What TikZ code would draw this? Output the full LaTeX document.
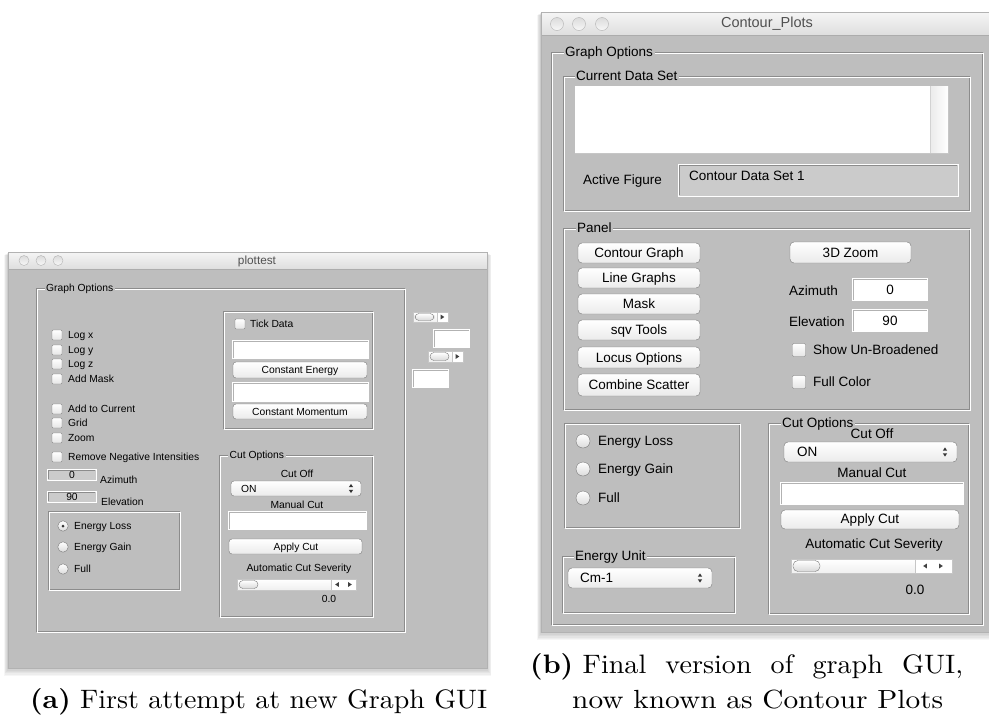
\documentclass[tikz,border=0pt]{standalone}
\usepackage{fontspec}
\usepackage{graphicx}
\newfontfamily\uifont{Liberation Sans}
\definecolor{bg}{RGB}{190,190,190}
\definecolor{etchd}{RGB}{140,140,140}
\definecolor{ctl}{RGB}{120,120,120}
\definecolor{ttl}{RGB}{80,80,80}
\newcommand\etchbox[4]{%
 \draw[etchd] (#1,#2) rectangle ({#3-1},{#4-1});
 \draw[white] ({#1+1},{#2+1}) rectangle (#3,#4);}
\newcommand\chkbox[3]{%
 \draw[rounded corners=1.2pt, draw=ctl, top color=white, bottom color=gray!20] ({#1-#3},{#2-#3}) rectangle ({#1+#3},{#2+#3});}
\newcommand\radiobtn[3]{\draw[draw=ctl, top color=white, bottom color=gray!28] (#1,#2) circle (#3);}
\newcommand\aquabtn[5]{%
 \draw[rounded corners=#5, draw=ctl, top color=white, bottom color=gray!16] (#1,#2) rectangle (#3,#4);}
\newcommand\popupmenu[6]{%
 \aquabtn{#1}{#2}{#3}{#4}{#6}
 \fill[black!80] ({#5-2.2},{(#2+#4)/2-1.3}) -- ({#5+2.2},{(#2+#4)/2-1.3}) -- (#5,{(#2+#4)/2-4.6}) -- cycle;
 \fill[black!80] ({#5-2.2},{(#2+#4)/2+1.3}) -- ({#5+2.2},{(#2+#4)/2+1.3}) -- (#5,{(#2+#4)/2+4.6}) -- cycle;}
\newcommand\textfield[4]{%
 \draw[white, line width=1.4pt, fill=white] ({#1-0.7},{#2-0.7}) rectangle ({#3+0.7},{#4+0.7});
 \draw[gray!60] ({#1+0.5},#4) -- ({#1+0.5},{#2+0.5}) -- (#3,{#2+0.5});}
\newcommand\grayfield[4]{%
 \fill[bg!80!white] (#1,#2) rectangle (#3,#4);
 \draw[white] (#1,#2) rectangle (#3,#4);
 \draw[etchd] ({#1+1},{#4-1}) -- ({#1+1},{#2+1}) -- ({#3-1},{#2+1});}
\newcommand\sliderbar[7]{%
 \fill[white] (#1,#2) rectangle (#3,#4);
 \shade[top color=white, bottom color=gray!12] (#1,#2) rectangle (#6,#4);
 \draw[gray!45] (#1,#2) rectangle (#3,#4);
 \draw[ctl, top color=white, bottom color=gray!30, rounded corners=#7] ({#1+2},{#2+1.5}) rectangle (#5,{#4-1.5});
 \draw[gray!45] (#6,#2) -- (#6,#4);}
\newcommand\trileft[2]{\fill[black!75] ({#1+1.8},{#2-2.4}) -- ({#1+1.8},{#2+2.4}) -- ({#1-1.8},#2) -- cycle;}
\newcommand\triright[2]{\fill[black!75] ({#1-1.8},{#2-2.4}) -- ({#1-1.8},{#2+2.4}) -- ({#1+1.8},#2) -- cycle;}
\tikzset{
 tL/.style={font=\uifont\fontsize{10.3}{12}\selectfont, inner sep=0pt, text height=7.4pt, text depth=0pt},
 tR/.style={font=\uifont\fontsize{13.5}{15}\selectfont, inner sep=0pt, text height=9.7pt, text depth=0pt},
 lbl/.style={fill=bg, inner xsep=1.5pt, inner ysep=1pt, anchor=west},
 ttlfont/.style={text=ttl, inner sep=0pt},
}
\begin{document}
\begin{tikzpicture}[x=1pt,y=-1pt]
\useasboundingbox (0,0) rectangle (989,718);
\fill[white] (0,0) rectangle (989,718);

% ================= LEFT WINDOW =================
\foreach \k in {1,...,6} \fill[black, opacity=0.035] ({8-\k*0.7},{252+\k*0.5}) rectangle ({487+\k*0.7},{668+\k*1.3});
\fill[bg] (8,252) rectangle (487,668);
\shade[top color=gray!8, bottom color=gray!26] (8,252) rectangle (487,269);
\draw[gray!65] (8,269) -- (487,269);
\draw[gray!60] (8,252) rectangle (487,668);
\foreach \x in {24,41,58} \draw[gray!60, top color=gray!28, bottom color=gray!6] (\x,260.5) circle (5);
\node[ttlfont, font=\uifont\fontsize{11.8}{13}\selectfont] (ttla) at (257,261) {plottest};

\etchbox{36}{288}{405}{632}
\node[tL,lbl] (lgo) at (44.5,288) {Graph Options};

\chkbox{57}{335}{5} \node[tL,anchor=west] (llx) at (68,335) {Log x};
\chkbox{57}{350}{5} \node[tL,anchor=west] (lly) at (68,350) {Log y};
\chkbox{57}{364}{5} \node[tL,anchor=west] (llz) at (68,364) {Log z};
\chkbox{57}{379}{5} \node[tL,anchor=west] (lam) at (68,379) {Add Mask};
\chkbox{57}{409}{5} \node[tL,anchor=west] (lac) at (68,409) {Add to Current};
\chkbox{57}{423}{5} \node[tL,anchor=west] (lgr) at (68,423) {Grid};
\chkbox{57}{438}{5} \node[tL,anchor=west] (lzo) at (68,438) {Zoom};
\chkbox{57}{457}{5} \node[tL,anchor=west] (lrn) at (68,457) {Remove Negative Intensities};

\grayfield{47}{469}{96}{480} \node[tL] (laz0) at (72,475) {0};
\node[tL,anchor=west] (laz) at (100,480) {Azimuth};
\grayfield{47}{491}{96}{502} \node[tL] (lel0) at (72,497) {90};
\node[tL,anchor=west] (lel) at (101,502) {Elevation};

\etchbox{48}{511}{180}{590}
\radiobtn{63}{526}{5.2} \fill[black!80] (63,526) circle (1.5);
\node[tL,anchor=west] (lelo) at (74,526) {Energy Loss};
\radiobtn{63}{547}{5.2} \node[tL,anchor=west] (legn) at (74,547) {Energy Gain};
\radiobtn{63}{569}{5.2} \node[tL,anchor=west] (lful) at (74,569) {Full};

\etchbox{223}{311}{373}{429}
\chkbox{240}{324}{5} \node[tL,anchor=west] (ltd) at (250,324) {Tick Data};
\textfield{233}{341}{368}{358}
\aquabtn{233}{362}{367}{378}{3pt} \node[tL] (lce) at (300,370) {Constant Energy};
\textfield{233}{383}{368}{401}
\aquabtn{233}{404}{367}{419}{3pt} \node[tL] (lcm) at (300,411.5) {Constant Momentum};

\etchbox{219}{455}{373}{617}
\node[tL,lbl] (lco) at (228,455) {Cut Options};
\node[tL] (lcoff) at (297,474) {Cut Off};
\popupmenu{231}{481}{361}{496}{351}{3pt} \node[tL,anchor=west] (lon) at (241,488.5) {ON};
\node[tL] (lmc) at (297,505) {Manual Cut};
\textfield{229}{512}{366}{529}
\aquabtn{229}{539}{362}{554}{3pt} \node[tL] (lapc) at (296,546.5) {Apply Cut};
\node[tL] (lacs) at (299,568) {Automatic Cut Severity};
\sliderbar{237}{579}{356}{590}{258}{331}{4pt} \trileft{337}{584.5} \triright{350}{584.5}
\node[tL] (lval) at (329,599) {0.0};

\sliderbar{413}{312}{448}{322}{434}{437}{4pt} \triright{442.5}{317}
\textfield{434}{330}{469}{347}
\sliderbar{428}{351}{463}{362}{449}{452}{4pt} \triright{457.5}{356.5}
\textfield{413}{370}{448}{387}

% ================= RIGHT WINDOW =================
\foreach \k in {1,...,6} \fill[black, opacity=0.035] ({541-\k*0.7},{12+\k*0.5}) rectangle ({989},{632+\k*1.4});
\fill[bg] (541,12) rectangle (989,632);
\shade[top color=gray!8, bottom color=gray!26] (541,12) rectangle (989,35);
\draw[gray!65] (541,35) -- (989,35);
\draw[gray!60] (541,12) rectangle (989,632);
\foreach \x in {557,579,602} \draw[gray!60, top color=gray!28, bottom color=gray!6] (\x,24) circle (6.5);
\node[ttlfont, font=\uifont\fontsize{14.5}{16}\selectfont] (ttlb) at (767,24) {Contour\_Plots};

\etchbox{551}{52}{983}{625}
\node[tR,lbl] (rgo) at (563.5,52) {Graph Options};

\etchbox{563}{76}{970}{211}
\node[tR,lbl] (rcds) at (574.5,76) {Current Data Set};
\fill[white] (575,86) rectangle (948,153);
\shade[left color=gray!16, right color=white] (930,86) rectangle (948,153);
\draw[gray!35] (930,86) -- (930,153);
\draw[gray!45] (575,153.5) -- (948,153.5);
\node[tR,anchor=west] (raf) at (583,180) {Active Figure};
\grayfield{678}{164}{958}{196}
\node[tR,anchor=west] (rafv) at (689,176) {Contour Data Set 1};

\etchbox{563}{228}{970}{410}
\node[tR,lbl] (rpan) at (575.5,228) {Panel};
\aquabtn{578}{243}{700}{263}{4pt} \node[tR] (rb1) at (639,253) {Contour Graph};
\aquabtn{578}{268}{700}{288}{4pt} \node[tR] (rb2) at (639,278) {Line Graphs};
\aquabtn{578}{294}{700}{314}{4pt} \node[tR] (rb3) at (639,304) {Mask};
\aquabtn{578}{320}{700}{340}{4pt} \node[tR] (rb4) at (639,330) {sqv Tools};
\aquabtn{578}{347}{700}{368}{4pt} \node[tR] (rb5) at (639,357.5) {Locus Options};
\aquabtn{578}{374}{700}{396}{4pt} \node[tR] (rb6) at (639,385) {Combine Scatter};
\aquabtn{790}{242}{911}{263}{4pt} \node[tR] (rb7) at (850.5,252.5) {3D Zoom};
\node[tR,anchor=west] (raz) at (789,291) {Azimuth};
\textfield{853}{279}{927}{300} \node[tR] (raz0) at (890,289.5) {0};
\node[tR,anchor=west] (rel) at (789,322) {Elevation};
\textfield{853}{310}{927}{331} \node[tR] (rel0) at (890,320.5) {90};
\chkbox{799}{350}{6.5} \node[tR,anchor=west] (rsub) at (813,350) {Show Un-Broadened};
\chkbox{799}{382}{6.5} \node[tR,anchor=west] (rfc) at (813,382) {Full Color};

\etchbox{564}{423}{740}{528}
\radiobtn{583}{441}{7} \node[tR,anchor=west] (relo) at (598,441) {Energy Loss};
\radiobtn{583}{469}{7} \node[tR,anchor=west] (regn) at (598,469) {Energy Gain};
\radiobtn{583}{498}{7} \node[tR,anchor=west] (rful) at (598,498) {Full};

\etchbox{562}{556}{735}{613}
\node[tR,lbl] (reu) at (573.5,556) {Energy Unit};
\popupmenu{568}{568}{712}{588}{700}{4pt} \node[tR,anchor=west] (rcm) at (580,578) {Cm-1};

\etchbox{768}{423}{969}{614}
\node[tR,lbl] (rco) at (780.5,423) {Cut Options};
\node[tR] (rcoff) at (872,434) {Cut Off};
\popupmenu{784}{442}{957}{462}{945}{4pt} \node[tR,anchor=west] (ron) at (797,452) {ON};
\node[tR] (rmc) at (872,473) {Manual Cut};
\textfield{781}{483}{963}{504}
\aquabtn{781}{510}{959}{529}{4pt} \node[tR] (rapc) at (870,519) {Apply Cut};
\node[tR] (racs) at (874,544) {Automatic Cut Severity};
\sliderbar{791}{559}{952}{573}{820}{915}{5pt} \trileft{925}{566} \triright{941}{566}
\node[tR] (rval) at (915,590) {0.0};

% ================= CAPTIONS =================
\node[anchor=base west, inner sep=0pt] (capa) at (30,708) {\resizebox{457pt}{20pt}{\textbf{(a)} First attempt at new Graph GUI}};
\node[anchor=base west, inner sep=0pt] (capb1) at (530,673) {\resizebox{433pt}{20pt}{\hbox to 154pt{\textbf{(b)} Final\hfill version\hfill of\hfill graph\hfill GUI,}}};
\node[anchor=base west, inner sep=0pt] (capb2) at (572,708) {\resizebox{371pt}{18.5pt}{now known as Contour Plots}};
\end{tikzpicture}
\end{document}
